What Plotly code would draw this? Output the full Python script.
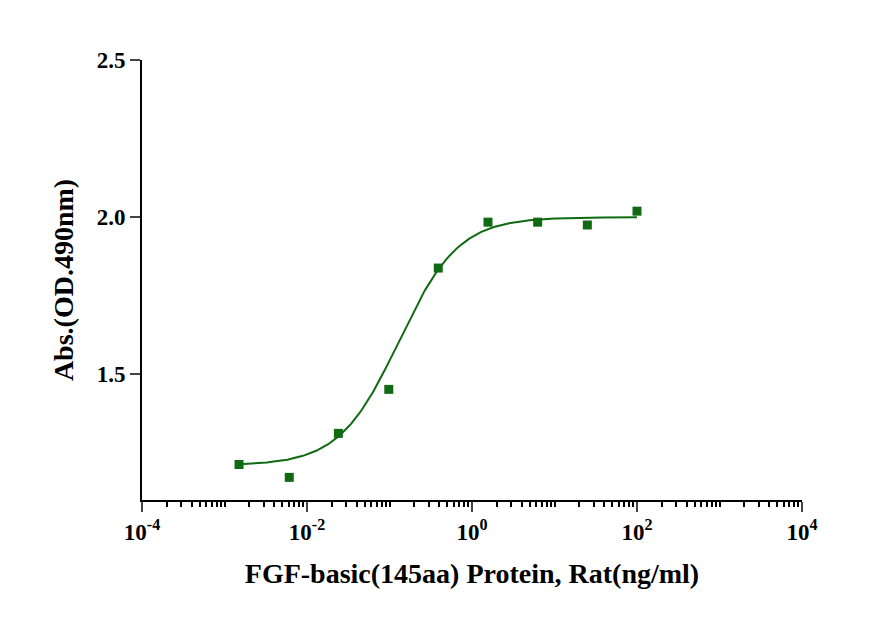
import numpy as np
import plotly.graph_objects as go

conc = [0.0015, 0.0061, 0.024, 0.098, 0.39, 1.5625, 6.25, 25, 100]
od = [1.213, 1.172, 1.312, 1.452, 1.838, 1.984, 1.984, 1.975, 2.019]
# 4PL fit parameters: bottom, top, ec50, hill
fit = [1.21, 2.0, 0.13, 1.2]

xs = np.logspace(np.log10(conc[0]), np.log10(conc[-1]), 300)
bottom, top, ec50, hill = fit
ys = bottom + (top - bottom) / (1 + (ec50 / xs) ** hill)

green = "#0f6a12"
font = dict(family="Liberation Serif", size=23, color="black")

fig = go.Figure()
fig.add_trace(go.Scatter(x=xs, y=ys, mode="lines", line=dict(color=green, width=2)))
fig.add_trace(go.Scatter(x=conc, y=od, mode="markers",
                         marker=dict(symbol="square", size=9, color=green)))

fig.update_layout(
    width=895, height=638, showlegend=False,
    plot_bgcolor="white", paper_bgcolor="white",
    margin=dict(l=134, r=101, t=52, b=146),
    font=font,
)
fig.update_xaxes(
    type="log", range=[-4, 4],
    tickvals=[1e-4, 1e-2, 1, 1e2, 1e4],
    ticktext=["<b>10<sup>-4</sup></b>", "<b>10<sup>-2</sup></b>", "<b>10<sup>0</sup></b>",
              "<b>10<sup>2</sup></b>", "<b>10<sup>4</sup></b>"],
    showline=True, linecolor="black", linewidth=2, ticks="outside", ticklen=10, tickwidth=2,
    minor=dict(ticks="outside", ticklen=5, tickwidth=1.5, dtick="D1", tickcolor="black"),
    showgrid=False, zeroline=False,
    title=dict(text="<b>FGF-basic(145aa) Protein, Rat(ng/ml)</b>", standoff=20),
)
fig.update_yaxes(
    range=[1.1, 2.5], tickvals=[1.5, 2.0, 2.5],
    ticktext=["<b>1.5</b>", "<b>2.0</b>", "<b>2.5</b>"],
    showline=True, linecolor="black", linewidth=2, ticks="outside", ticklen=10, tickwidth=2,
    showgrid=False, zeroline=False,
    title=dict(text="<b>Abs.(OD.490nm)</b>", standoff=15),
)

fig.write_html("out.html")
